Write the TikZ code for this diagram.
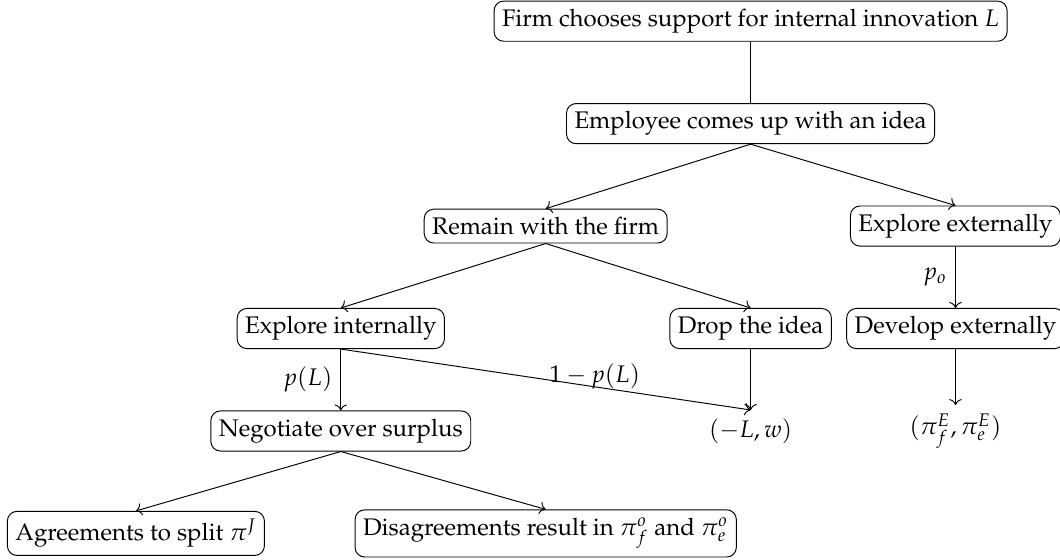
\documentclass[tikz,border=0pt]{standalone}
\usepackage[T1]{fontenc}
\usepackage{amsmath,amssymb}
\usepackage{mathpazo}
\usetikzlibrary{arrows.meta,positioning}

\begin{document}
\begin{tikzpicture}[b/.style={draw, rounded corners}]
\useasboundingbox (-1.99,0.31) rectangle (13.53,-7.88);
% stages of the game
\node[b] (firm) at (9,0) {Firm chooses support for internal innovation $L$};
\node[b] (emp) at (9,-1.5) {Employee comes up with an idea};
\node[b] (stay) at (6,-3) {Remain with the firm};
\node[b] (extx) at (12,-3) {Explore externally};
\node[b] (intx) at (3,-4.5) {Explore internally};
\node[b] (drop) at (9,-4.5) {Drop the idea};
\node[b] (dev) at (12,-4.5) {Develop externally};
\node[b] (neg) at (3,-6) {Negotiate over surplus};
\node (lw) at (9,-6) {$(-L,w)$};
\node (pe) at (12,-6) {$(\pi^E_f,\pi^E_e)$};
\node[b] (agr) at (0,-7.5) {Agreements to split $\pi^J$};
\node[b] (dis) at (6,-7.5) {Disagreements result in $\pi^o_f$ and $\pi^o_e$};
% moves
\draw (firm) -- (emp);
\draw[->] (emp.south) -- (stay.north);
\draw[->] (emp.south) -- (extx.north);
\draw[->] (stay.south) -- (intx.north);
\draw[->] (stay.south) -- (drop.north);
\draw[->] (extx) -- node[left] {$p_o$} (dev);
\draw[->] (intx) -- node[left] {$p(L)$} (neg);
\draw[->] (intx.south) -- node[pos=0.62, anchor=base, yshift=2pt] {$1-p(L)$} (lw.north);
\draw[->] (drop) -- (lw);
\draw[->] (dev) -- (pe);
\draw[->] (neg.south) -- (agr.north);
\draw[->] (neg.south) -- (dis.north);
\end{tikzpicture}
\end{document}
